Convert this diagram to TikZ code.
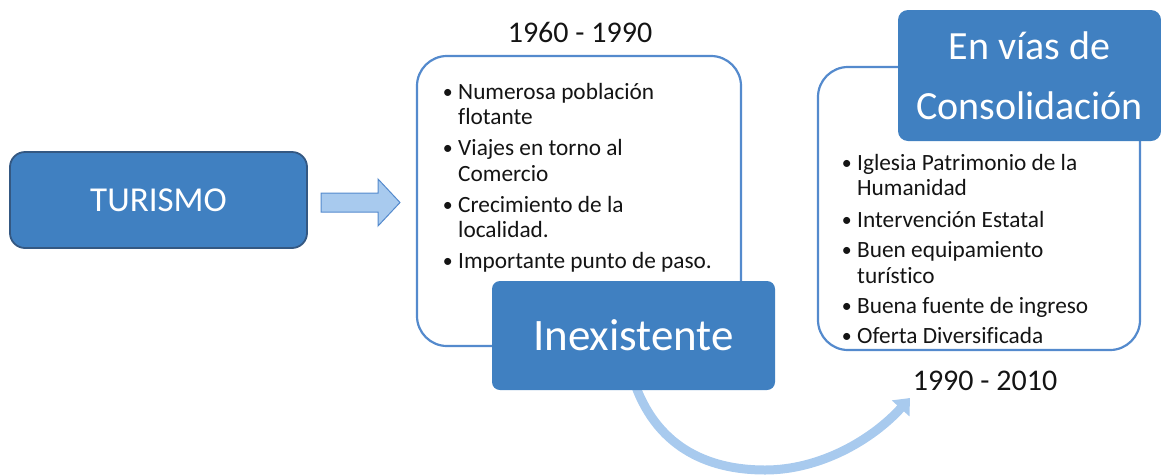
\documentclass[tikz,border=0pt]{standalone}
\usepackage{fontspec}
\setmainfont{Carlito}[Ligatures=NoCommon]
\usetikzlibrary{arrows.meta}
\definecolor{dblue}{RGB}{64,128,193}
\definecolor{dborder}{RGB}{52,88,130}
\definecolor{lblue}{RGB}{168,202,238}
\definecolor{bline}{RGB}{84,138,205}
\definecolor{txt}{RGB}{20,20,20}
\newcommand\bul{\llap{\raisebox{0.5pt}{\scalebox{0.85}{\textbullet}}\hspace{5.5pt}}}
\begin{document}
\begin{tikzpicture}[x=1pt,y=-1pt,
  darkbox/.style={fill=dblue, text=white, inner sep=0, align=center},
  listbox/.style={draw=bline, line width=2.2pt, rounded corners=30pt, fill=white, inner sep=0},
  item/.style={anchor=base west, inner sep=0, font=\fontsize{23.3}{25}\selectfont, text=txt},
  year/.style={inner sep=0, font=\fontsize{30}{36}\selectfont, text=txt}]
\useasboundingbox (0,0) rectangle (1161,475);

% TURISMO
\node[darkbox, draw=dborder, line width=1.8pt, rounded corners=15pt,
      minimum width=297pt, minimum height=96pt, font=\fontsize{35}{40}\selectfont]
      (tur) at (158.5,200) {TURISMO};

% left list box
\node[listbox, minimum width=324pt, minimum height=290pt] (lbox) at (579,201) {};
\node[year] (y1) at (580,32) {1960 - 1990};

% block arrow
\draw[fill=lblue, draw=bline, line width=1pt]
  (321,193) -- (378,193) -- (378,179) -- (400,202.5) -- (378,226) -- (378,212) -- (321,212) -- cycle;

\node[item] (l1) at (458,99)  {\bul Numerosa población};
\node[item] (l2) at (458,124) {flotante};
\node[item] (l3) at (458,155) {\bul Viajes en torno al};
\node[item] (l4) at (458,181) {Comercio};
\node[item] (l5) at (458,212) {\bul Crecimiento de la};
\node[item] (l6) at (458,237) {localidad.};
\node[item] (l7) at (458,268) {\bul Importante punto de paso.};

% right list box
\node[listbox, minimum width=322pt, minimum height=283pt] (rbox) at (979,208.5) {};
\node[item] (r1) at (857,170) {\bul Iglesia Patrimonio de la};
\node[item] (r2) at (857,195) {Humanidad};
\node[item] (r3) at (857,227) {\bul Intervención Estatal};
\node[item] (r4) at (857,257) {\bul Buen equipamiento};
\node[item] (r5) at (857,283) {turístico};
\node[item] (r6) at (857,313) {\bul Buena fuente de ingreso};
\node[item] (r7) at (857,343) {\bul Oferta Diversificada};
\node[year] (y2) at (985,381) {1990 - 2010};

% En vias box
\node[darkbox, rounded corners=10pt, minimum width=263pt, minimum height=131pt,
      font=\fontsize{40}{60}\selectfont] (cons) at (1029.5,75.5) {En vías de\\Consolidación};

% curved arrow
\coordinate (cend) at (910,398);
\coordinate (cbot) at (765,470);
\draw[lblue, line width=9pt, -{Triangle[width=23pt,length=14pt]}]
  (633.5,380) .. controls (655,445) and (705,470) .. (cbot)
  .. controls (820,470) and (872,440) .. (cend);

% Inexistente box
\node[darkbox, rounded corners=8pt, minimum width=283pt, minimum height=109pt,
      font=\fontsize{45}{50}\selectfont] (inex) at (633.5,335.5) {Inexistente};
\end{tikzpicture}
\end{document}
